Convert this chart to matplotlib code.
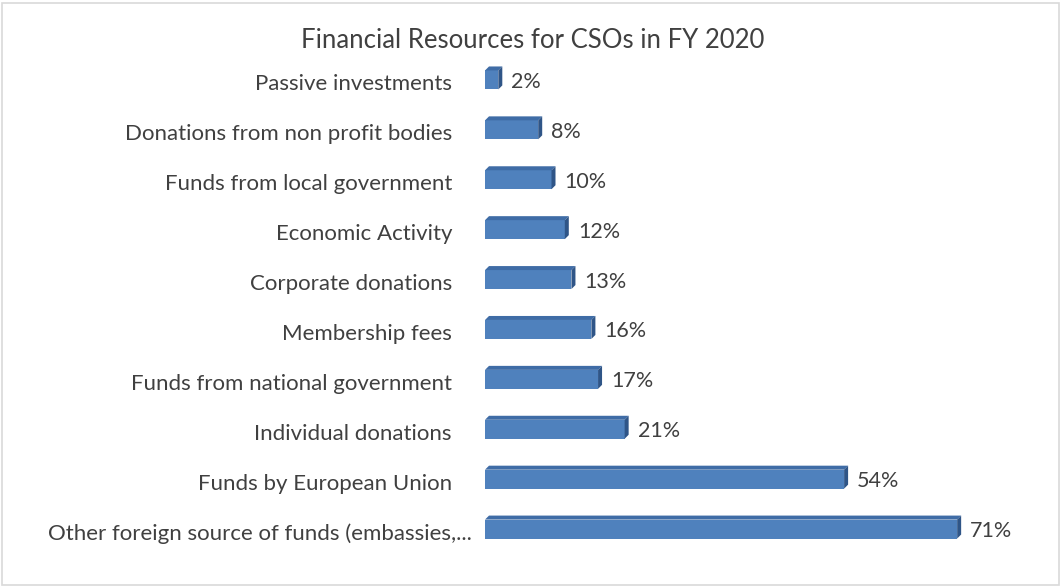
import numpy as np
import matplotlib.pyplot as plt
from matplotlib.patches import Polygon, Rectangle
from matplotlib.transforms import ScaledTranslation

plt.rcParams['font.family'] = ['Lato', 'DejaVu Sans']

categories = ["Passive investments", "Donations from non profit bodies",
              "Funds from local government", "Economic Activity",
              "Corporate donations", "Membership fees",
              "Funds from national government", "Individual donations",
              "Funds by European Union",
              "Other foreign source of funds (embassies,..."]
values = [2, 8, 10, 12, 13, 16, 17, 21, 54, 71]

W, H = 1062, 587
fig = plt.figure(figsize=(W / 100, H / 100), dpi=100)
# axes placed in pixel terms
left_px, right_px = 485, 1040
top_px, bot_px = 50, 559
ax = fig.add_axes([left_px / W, 1 - bot_px / H, (right_px - left_px) / W, (bot_px - top_px) / H])

xmax = (right_px - left_px) / 6.65
ax.set_xlim(0, xmax)
ax.set_ylim(len(values) - 0.4, -0.6)

front = "#4F81BD"
topc = "#3F6CA6"
side = "#2F5587"
bar_h = 0.38

y = np.arange(len(values))
ax.barh(y, values, height=bar_h, color=front, edgecolor="none", zorder=2)

# fake 3D depth (pixels -> data units)
px_x = xmax / (right_px - left_px)
px_y = (len(values) - 0.4 + 0.6) / (bot_px - top_px)
dx, dy = 4 * px_x, 4 * px_y
for yi, v in zip(y, values):
    yt = yi - bar_h / 2
    yb = yi + bar_h / 2
    ax.add_patch(Polygon([(0, yt), (v, yt), (v + dx, yt - dy), (dx, yt - dy)],
                         closed=True, color=topc, lw=0, zorder=2))
    ax.add_patch(Polygon([(v, yt), (v + dx, yt - dy), (v + dx, yb - dy), (v, yb)],
                         closed=True, color=side, lw=0, zorder=2))
    ax.text(v + dx + 9 * px_x, yi + 0.04, f"{v}%", va="center", ha="left",
            fontsize=15.5, color="#404040")

# category labels (baseline near bar bottom); the truncated one sticks out further
ytrans = ax.get_yaxis_transform()
for i, (yi, cat) in enumerate(zip(y, categories)):
    shift = 20 if i == len(categories) - 1 else 0
    tr = ytrans + ScaledTranslation((shift - 33) / 100, 0, fig.dpi_scale_trans)
    ax.text(0, yi + bar_h / 2 + 0.02, cat, transform=tr, ha="right", va="baseline",
            fontsize=16, color="#404040")

ax.set_yticks([])
ax.set_xticks([])
for s in ax.spines.values():
    s.set_visible(False)

fig.text(533 / W, 1 - 40 / H, "Financial Resources for CSOs in FY 2020",
         ha="center", va="center", fontsize=18.5, color="#404040")

fig.patches.append(Rectangle((2 / W, 2 / H), 1 - 5 / W, 1 - 5 / H,
                             transform=fig.transFigure, fill=False,
                             edgecolor="#D9D9D9", lw=1.2))

fig.savefig("out.png", dpi=100)
